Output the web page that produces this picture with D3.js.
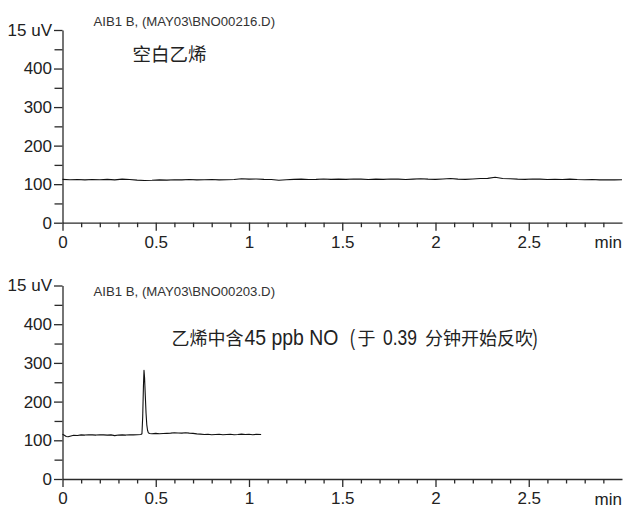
<!DOCTYPE html>
<html>
<head>
<meta charset="utf-8">
<script src="https://cdn.jsdelivr.net/npm/d3@7"></script>
<style>
  body { margin: 0; background: #fff; }
  svg { display: block; }
</style>
</head>
<body>
<div class="chart"></div>
<script>
// DATA ---------------------------------------------------------------

const xTickValues = [0, 0.5, 1, 1.5, 2, 2.5];
const yTickValues = [0, 100, 200, 300, 400, 500];
const yTopLabel = '15 uV';
const xUnitLabel = 'min';

const headers = ['AIB1 B, (MAY03\\BNO00216.D)', 'AIB1 B, (MAY03\\BNO00203.D)'];
const blankTitle = '空白乙烯';
// bottom title pieces, CJK and latin runs
const noTitle = ['乙烯中含', '45 ppb NO', '(', '于', '0.39', '分钟开始反吹', ')'];

// blank ethylene trace [min, signal]
const blankTrace = [
    [0.00, 112.5], [0.04, 111.5], [0.08, 112], [0.12, 111], [0.16, 112],
    [0.20, 111.5], [0.24, 112.5], [0.28, 111], [0.32, 113], [0.36, 112],
    [0.40, 110.5], [0.44, 109.5], [0.48, 110], [0.52, 111], [0.56, 110.5],
    [0.60, 111.5], [0.64, 111], [0.68, 112], [0.72, 111], [0.76, 111.5],
    [0.80, 112], [0.84, 111], [0.88, 111.5], [0.92, 112], [0.96, 114],
    [1.00, 113], [1.04, 113.5], [1.08, 112.5], [1.12, 112], [1.16, 110],
    [1.20, 111.5], [1.24, 112.5], [1.28, 113], [1.32, 112], [1.36, 112.5],
    [1.40, 113.5], [1.44, 112.5], [1.48, 113], [1.52, 112.5], [1.56, 113.5],
    [1.60, 113], [1.64, 112], [1.68, 113], [1.72, 112.5], [1.76, 113.5],
    [1.80, 113], [1.84, 112], [1.88, 113], [1.92, 114], [1.96, 113],
    [2.00, 112.5], [2.04, 113.5], [2.08, 114.5], [2.12, 113], [2.16, 112.5],
    [2.20, 113.5], [2.24, 114.5], [2.28, 115], [2.32, 118], [2.36, 114.5],
    [2.40, 114], [2.44, 113], [2.48, 112.5], [2.52, 113.5], [2.56, 113],
    [2.60, 112], [2.64, 112.5], [2.68, 112], [2.72, 113], [2.76, 112],
    [2.80, 111.5], [2.84, 112], [2.88, 111], [2.92, 111.5], [2.96, 111],
    [3.00, 111.5]
];

// ethylene with 45 ppb NO trace [min, signal]
const noTrace = [
    [0.000, 115.5], [0.010, 113], [0.020, 110], [0.030, 109], [0.040, 110.5],
    [0.060, 113], [0.080, 112.5], [0.100, 114], [0.120, 113.5], [0.140, 114.5],
    [0.160, 114], [0.180, 113.5], [0.200, 114.5], [0.220, 114], [0.240, 113.5],
    [0.260, 114], [0.280, 112], [0.300, 113.5], [0.320, 114], [0.340, 113.5],
    [0.360, 114.5], [0.380, 114], [0.400, 114.5], [0.420, 115], [0.426, 117],
    [0.430, 160], [0.434, 240], [0.437, 281], [0.440, 262], [0.444, 215],
    [0.448, 170], [0.452, 140], [0.456, 126], [0.460, 120], [0.466, 117.5],
    [0.480, 117], [0.500, 118], [0.520, 117], [0.540, 117.5], [0.560, 118],
    [0.580, 118.5], [0.600, 119.5], [0.620, 119], [0.640, 118.5], [0.660, 119.5],
    [0.680, 118.5], [0.700, 118], [0.720, 116.5], [0.740, 116], [0.760, 115],
    [0.780, 115.5], [0.800, 114.5], [0.820, 115], [0.840, 115.5], [0.860, 114.5],
    [0.880, 115], [0.900, 115.5], [0.920, 114.5], [0.940, 115], [0.960, 116],
    [0.980, 115], [1.000, 115.5], [1.020, 114.5], [1.040, 115.5], [1.065, 115]
];

// CHART INIT ---------------------------------------------------------

const width = 626;
const height = 508;
const svg = d3.select('.chart')
    .append('svg')
    .attr('width', width)
    .attr('height', height);

const xScale = d3.scaleLinear()
    .domain([0, 3])
    .range([62.5, 622]);

const minorX = d3.range(1, 30).map(d => d / 10).filter(d => Math.round(d * 10) % 5 !== 0);
const minorY = [50, 150, 250, 350, 450];

const axisFont = '"Liberation Sans", Arial, sans-serif';
const cjkFont = '"Noto Sans CJK SC", sans-serif';

function drawPanel(top, bottom, trace) {
    const yScale = d3.scaleLinear()
        .domain([0, 500])
        .range([bottom, top]);

    const g = svg.append('g');

    // minor ticks first
    g.append('g')
        .attr('transform', 'translate(0,' + bottom + ')')
        .call(d3.axisBottom(xScale).tickValues(minorX).tickSize(4.5).tickSizeOuter(0).tickFormat(''))
        .call(a => a.select('.domain').remove());

    g.append('g')
        .attr('transform', 'translate(62.5,0)')
        .call(d3.axisLeft(yScale).tickValues(minorY).tickSize(8).tickSizeOuter(0).tickFormat(''))
        .call(a => a.select('.domain').remove());

    // major axes
    g.append('g')
        .attr('class', 'x-axis')
        .attr('transform', 'translate(0,' + bottom + ')')
        .call(d3.axisBottom(xScale)
            .tickValues(xTickValues)
            .tickSize(8)
            .tickSizeOuter(0)
            .tickPadding(5)
            .tickFormat(d3.format('')));

    g.append('g')
        .attr('class', 'y-axis')
        .attr('transform', 'translate(62.5,0)')
        .call(d3.axisLeft(yScale)
            .tickValues(yTickValues)
            .tickSize(8.5)
            .tickSizeOuter(0)
            .tickPadding(2)
            .tickFormat(d => d === 500 ? yTopLabel : d));

    g.selectAll('.tick line, .domain')
        .attr('stroke', '#2a2a2a')
        .attr('stroke-width', 1.3);

    g.selectAll('.tick text')
        .attr('font-family', axisFont)
        .attr('font-size', 17)
        .attr('fill', '#222');

    g.append('text')
        .attr('x', 622)
        .attr('y', bottom + 25.5)
        .attr('text-anchor', 'end')
        .attr('font-family', axisFont)
        .attr('font-size', 17)
        .attr('fill', '#222')
        .text(xUnitLabel);

    // trace
    const line = d3.line()
        .x(d => xScale(d[0]))
        .y(d => yScale(d[1]));

    g.append('path')
        .datum(trace)
        .attr('fill', 'none')
        .attr('stroke', '#111')
        .attr('stroke-width', 1.1)
        .attr('stroke-linejoin', 'round')
        .attr('d', line);

    return g;
}

// CHART DRAW ---------------------------------------------------------

const topPanel = drawPanel(30, 222.7, blankTrace);
const bottomPanel = drawPanel(285.5, 479, noTrace);

topPanel.append('text')
    .attr('x', 93.5)
    .attr('y', 26)
    .attr('font-family', axisFont)
    .attr('font-size', 13.2)
    .attr('fill', '#333')
    .text(headers[0]);

bottomPanel.append('text')
    .attr('x', 93.5)
    .attr('y', 296)
    .attr('font-family', axisFont)
    .attr('font-size', 13.2)
    .attr('fill', '#333')
    .text(headers[1]);

topPanel.append('text')
    .attr('x', 132.5)
    .attr('y', 61)
    .attr('font-family', cjkFont)
    .attr('font-size', 18.5)
    .attr('fill', '#222')
    .text(blankTitle);

// latin runs are condensed by a horizontal scale to the width they take
const titleLayout = [
    {x: 171.5, cjk: true},
    {x: 244.5, cjk: false, w: 94},
    {x: 350, cjk: false, w: 5},
    {x: 357.5, cjk: true},
    {x: 383, cjk: false, w: 34},
    {x: 425, cjk: true},
    {x: 532.5, cjk: false, w: 5}
];

bottomPanel.selectAll('.no-title')
    .data(noTitle)
    .join('text')
    .attr('class', 'no-title')
    .attr('fill', '#222')
    .attr('font-family', (d, i) => titleLayout[i].cjk ? cjkFont : axisFont)
    .attr('font-size', (d, i) => titleLayout[i].cjk ? 18 : 22.5)
    .text(d => d)
    .each(function(d, i) {
        const lay = titleLayout[i];
        const sx = lay.cjk ? 1 : lay.w / this.getComputedTextLength();
        d3.select(this)
            .attr('transform', 'translate(' + lay.x + ',345) scale(' + sx + ',1)');
    });
</script>
</body>
</html>
